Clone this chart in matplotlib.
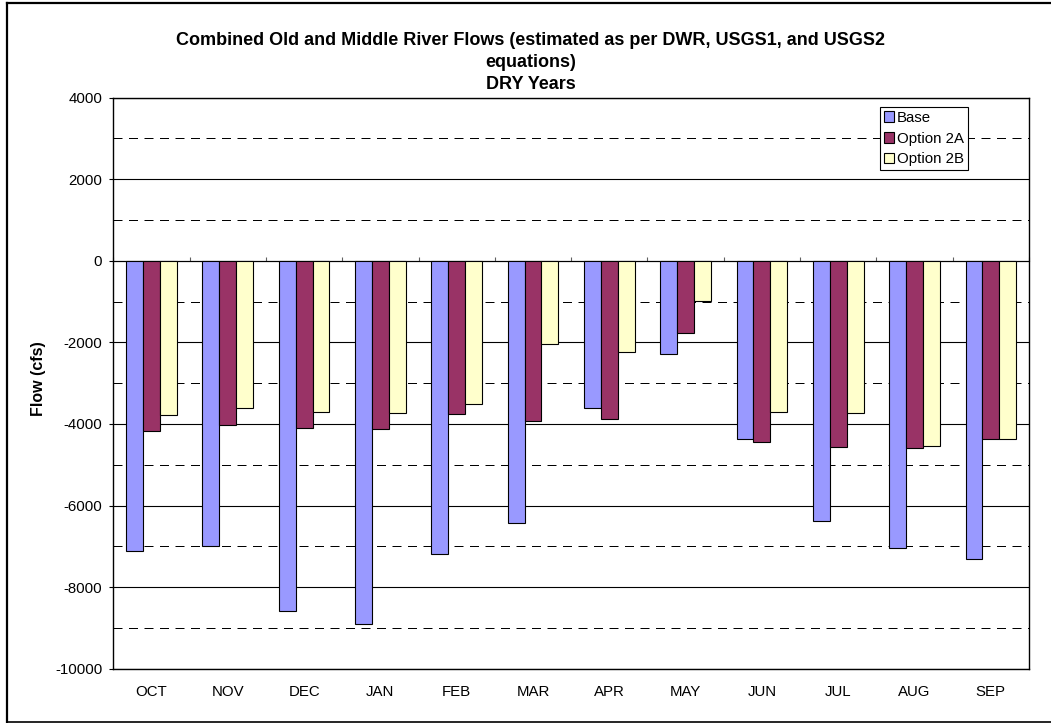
import numpy as np
import matplotlib
matplotlib.use('Agg')
import matplotlib.pyplot as plt
from matplotlib.lines import Line2D

plt.rcParams['font.family'] = ['Liberation Sans', 'DejaVu Sans']
plt.rcParams['axes.unicode_minus'] = False

# DATA
months = ['OCT', 'NOV', 'DEC', 'JAN', 'FEB', 'MAR', 'APR', 'MAY', 'JUN', 'JUL', 'AUG', 'SEP']
base = [-7120, -7000, -8590, -8900, -7180, -6420, -3610, -2290, -4380, -6380, -7030, -7310]
option_2a = [-4180, -4020, -4100, -4120, -3750, -3930, -3870, -1780, -4430, -4570, -4600, -4380]
option_2b = [-3770, -3610, -3700, -3720, -3500, -2030, -2240, -990, -3710, -3720, -4540, -4380]
series_names = ['Base', 'Option 2A', 'Option 2B']
series_colors = ['#9999FF', '#993366', '#FFFFCC']

W, H = 1051, 723
fig = plt.figure(figsize=(W / 100, H / 100), dpi=100)
ax = fig.add_axes([113.3 / W, 1 - 668.7 / H, (1029 - 113.3) / W, (668.7 - 97.7) / H])

x = np.arange(len(months))
bw = 0.221
for i, (vals, name, col) in enumerate(zip([base, option_2a, option_2b], series_names, series_colors)):
    ax.bar(x + (i - 1) * bw, vals, width=bw, color=col, edgecolor='black',
           linewidth=0.8, label=name, zorder=3)

ymin, ymax = -10000, 4000
ax.set_ylim(ymin, ymax)
ax.set_xlim(-0.5, len(months) - 0.5)

# gridlines: solid on even thousands, dashed on odd
ax.set_yticks(np.arange(ymin, ymax + 1, 2000))
ax.set_yticks(np.arange(ymin + 1000, ymax, 2000), minor=True)
ax.grid(axis='y', which='major', color='black', linewidth=0.8, zorder=0)
ax.grid(axis='y', which='minor', color='black', linewidth=0.72, linestyle=(0, (9, 6.5)), zorder=0)
ax.set_axisbelow(True)
ax.tick_params(axis='y', which='major', direction='out', length=3, width=0.8, pad=5, labelsize=10.8)
ax.tick_params(axis='y', which='minor', length=0)

ax.set_xticks(x)
ax.set_xticklabels(months)
ax.tick_params(axis='x', length=0, pad=11.5, labelsize=10.8)

for sp in ax.spines.values():
    sp.set_linewidth(1.0)
    sp.set_color('black')

# category axis at zero
zero_frac = (0 - ymin) / (ymax - ymin)
sec = ax.secondary_xaxis(zero_frac)
sec.set_xticks(np.arange(-0.5, len(months), 1.0))
sec.tick_params(axis='x', direction='out', length=3, width=0.8, color='#606060', labelbottom=False, labeltop=False)
sec.spines['bottom'].set_color('#606060')
sec.spines['bottom'].set_linewidth(1.0)

fig.text(38 / W, 1 - 379 / H, 'Flow (cfs)', rotation=90, ha='center', va='center',
         fontsize=11.5, fontweight='bold')

title_lines = ['Combined Old and Middle River Flows (estimated as per DWR, USGS1, and USGS2',
               'equations)', 'DRY Years']
for k, line in enumerate(title_lines):
    fig.text(531 / W, 1 - (40.5 + k * 22.2) / H, line, ha='center', va='center',
             fontsize=13, fontweight='bold')

leg = ax.legend(loc='upper left', bbox_to_anchor=(880 / W, 1 - 107 / H),
                bbox_transform=fig.transFigure, fontsize=10.8, frameon=True,
                fancybox=False, framealpha=1, edgecolor='black', borderpad=0.25,
                labelspacing=0.45, handlelength=0.7, handleheight=0.7,
                handletextpad=0.2, borderaxespad=0)
leg.get_frame().set_linewidth(0.8)

# outer chart frame
fig.add_artist(Line2D([7 / W, 7 / W], [1 - 3 / H, 1 - 722 / H], transform=fig.transFigure, color='black', lw=1.6))
fig.add_artist(Line2D([7 / W, 1.0], [1 - 3 / H, 1 - 3 / H], transform=fig.transFigure, color='black', lw=1.6))
fig.add_artist(Line2D([7 / W, 1.0], [1 - 722 / H, 1 - 722 / H], transform=fig.transFigure, color='black', lw=1.2))

fig.savefig('out.png', dpi=100)
